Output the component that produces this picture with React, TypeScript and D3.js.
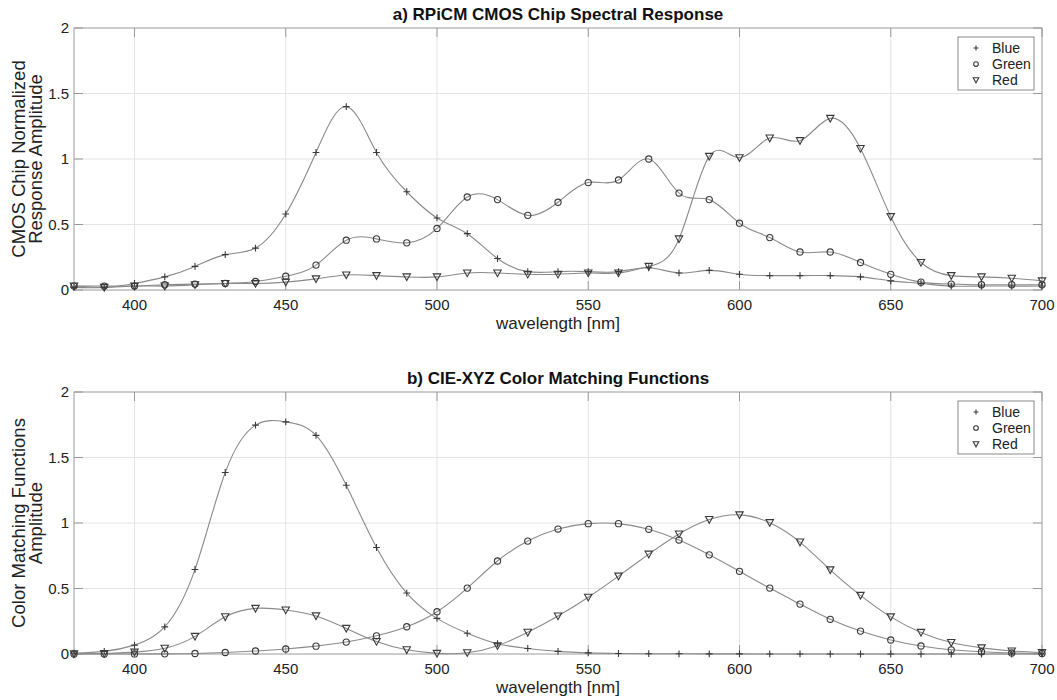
import React from "react";
import * as d3 from "d3";

const wavelengths = d3.range(380, 701, 10);

// Panel a) RPiCM CMOS chip spectral response
const cmosBlue = [0.02, 0.02, 0.05, 0.10, 0.18, 0.27, 0.32, 0.58, 1.05, 1.40, 1.05, 0.75, 0.55, 0.43, 0.24, 0.14, 0.14, 0.14, 0.14, 0.17, 0.13, 0.15, 0.12, 0.11, 0.11, 0.11, 0.10, 0.07, 0.05, 0.03, 0.03, 0.03, 0.03];
const cmosGreen = [0.03, 0.03, 0.03, 0.04, 0.045, 0.05, 0.065, 0.105, 0.19, 0.38, 0.39, 0.36, 0.47, 0.71, 0.69, 0.57, 0.67, 0.82, 0.84, 1.00, 0.74, 0.69, 0.51, 0.40, 0.29, 0.29, 0.21, 0.12, 0.06, 0.045, 0.04, 0.04, 0.04];
const cmosRed = [0.03, 0.02, 0.03, 0.03, 0.04, 0.05, 0.05, 0.06, 0.085, 0.115, 0.11, 0.10, 0.10, 0.13, 0.13, 0.12, 0.12, 0.13, 0.13, 0.18, 0.39, 1.02, 1.01, 1.16, 1.14, 1.31, 1.08, 0.56, 0.21, 0.11, 0.10, 0.09, 0.07];

// Panel b) CIE-XYZ color matching functions
const cieBlue = [0.0065, 0.0201, 0.0679, 0.2074, 0.6456, 1.3856, 1.7471, 1.7721, 1.6692, 1.2876, 0.813, 0.4652, 0.272, 0.1582, 0.0782, 0.0422, 0.0203, 0.0087, 0.0039, 0.0021, 0.0017, 0.0011, 0.0008, 0.0003, 0.0002, 0, 0, 0, 0, 0, 0, 0, 0];
const cieGreen = [0.0, 0.0001, 0.0004, 0.0012, 0.004, 0.0116, 0.023, 0.038, 0.06, 0.091, 0.139, 0.208, 0.323, 0.503, 0.71, 0.862, 0.954, 0.995, 0.995, 0.952, 0.87, 0.757, 0.631, 0.503, 0.381, 0.265, 0.175, 0.107, 0.061, 0.032, 0.017, 0.0082, 0.0041];
const cieRed = [0.0014, 0.0042, 0.0143, 0.0435, 0.1344, 0.2839, 0.3483, 0.3362, 0.2908, 0.1954, 0.0956, 0.032, 0.0049, 0.0093, 0.0633, 0.1655, 0.2904, 0.4334, 0.5945, 0.7621, 0.9163, 1.0263, 1.0622, 1.0026, 0.8544, 0.6424, 0.4479, 0.2835, 0.1649, 0.0874, 0.0468, 0.0227, 0.0114];

const xTicks = [400, 450, 500, 550, 600, 650, 700];
const yTicks = [0, 0.5, 1, 1.5, 2];
const yTickLabels = ["0", "0.5", "1", "1.5", "2"];
const seriesNames = ["Blue", "Green", "Red"];

const FONT = "'Liberation Sans', Arial, Helvetica, sans-serif";
const LINE = "#8a8a8a";
const MARK = "#3a3a3a";
const TEXT = "#222";

type Kind = "plus" | "circle" | "tri";
const kinds: Kind[] = ["plus", "circle", "tri"];

function Marker({ kind, x, y, s = 1 }: { kind: Kind; x: number; y: number; s?: number }) {
  if (kind === "plus") {
    const a = 3.4 * s;
    return <path d={`M${x - a},${y}H${x + a}M${x},${y - a}V${y + a}`} stroke={MARK} strokeWidth={1.1} fill="none" />;
  }
  if (kind === "circle") {
    return <circle cx={x} cy={y} r={3.1 * s} stroke={MARK} strokeWidth={1.1} fill="none" />;
  }
  const w = 3.7 * s;
  const h = 3 * s;
  return <path d={`M${x - w},${y - h}L${x + w},${y - h}L${x},${y + w}Z`} stroke={MARK} strokeWidth={1.1} fill="none" />;
}

function Panel({ top, title, ylabel, data }: { top: number; title: string; ylabel: string[]; data: number[][] }) {
  const left = 74;
  const right = 1042;
  const height = 262;
  const bottom = top + height;
  const x = d3.scaleLinear().domain([380, 700]).range([left, right]);
  const y = d3.scaleLinear().domain([0, 2]).range([bottom, top]);
  const line = d3
    .line<number>()
    .x((_, i) => x(wavelengths[i]))
    .y((d) => y(d))
    .curve(d3.curveNatural);
  const tickLen = 9;
  const cy = (top + bottom) / 2;
  const legX = 958;
  const legY = top + 9;

  return (
    <g>
      {xTicks.slice(0, -1).map((t) => (
        <line key={"gx" + t} x1={x(t)} x2={x(t)} y1={top} y2={bottom} stroke="#e4e4e4" strokeWidth={1} />
      ))}
      {yTicks.slice(1, -1).map((t) => (
        <line key={"gy" + t} x1={left} x2={right} y1={y(t)} y2={y(t)} stroke="#e4e4e4" strokeWidth={1} />
      ))}
      {xTicks.map((t) => (
        <g key={"tx" + t}>
          <line x1={x(t)} x2={x(t)} y1={bottom} y2={bottom - tickLen} stroke="#999" />
          <line x1={x(t)} x2={x(t)} y1={top} y2={top + tickLen} stroke="#999" />
          <text x={x(t)} y={bottom + 20} textAnchor="middle" fontSize={15} fill={TEXT} fontFamily={FONT}>
            {t}
          </text>
        </g>
      ))}
      {yTicks.map((t, i) => (
        <g key={"ty" + t}>
          <line x1={left} x2={left + tickLen} y1={y(t)} y2={y(t)} stroke="#999" />
          <line x1={right} x2={right - tickLen} y1={y(t)} y2={y(t)} stroke="#999" />
          <text x={left - 5} y={y(t)} dy="0.36em" textAnchor="end" fontSize={15} fill={TEXT} fontFamily={FONT}>
            {yTickLabels[i]}
          </text>
        </g>
      ))}
      <rect x={left} y={top} width={right - left} height={height} fill="none" stroke="#9a9a9a" strokeWidth={1} />
      {data.map((s, k) => (
        <path key={"l" + k} d={line(s) || ""} fill="none" stroke={LINE} strokeWidth={1.1} />
      ))}
      {data.map((s, k) => (
        <g key={"m" + k}>
          {s.map((v, i) => (
            <Marker key={i} kind={kinds[k]} x={x(wavelengths[i])} y={y(v)} />
          ))}
        </g>
      ))}
      <text x={(left + right) / 2} y={top - 8} textAnchor="middle" fontSize={17} fontWeight="bold" fill="#111" fontFamily={FONT}>
        {title}
      </text>
      <text x={(left + right) / 2} y={bottom + 39} textAnchor="middle" fontSize={17} fill={TEXT} fontFamily={FONT}>
        wavelength [nm]
      </text>
      {ylabel.map((l, i) => (
        <text
          key={"yl" + i}
          transform={`translate(${25 + i * 17},${cy}) rotate(-90)`}
          textAnchor="middle"
          fontSize={18.5}
          fill={TEXT}
          fontFamily={FONT}
        >
          {l}
        </text>
      ))}
      <rect x={legX} y={legY} width={76} height={53} fill="#fff" stroke="#8a8a8a" strokeWidth={1} />
      {seriesNames.map((n, i) => (
        <g key={"lg" + n}>
          <Marker kind={kinds[i]} x={legX + 18} y={legY + 11 + i * 16} s={0.75} />
          <text x={legX + 34} y={legY + 11 + i * 16} dy="0.36em" fontSize={14} fill={TEXT} fontFamily={FONT}>
            {n}
          </text>
        </g>
      ))}
    </g>
  );
}

export default function App() {
  return (
    <svg width={1057} height={700} style={{ position: "absolute", left: 0, top: 0, background: "#fff" }}>
      <rect width={1057} height={700} fill="#fff" />
      <Panel
        top={28}
        title="a) RPiCM CMOS Chip Spectral Response"
        ylabel={["CMOS Chip Normalized", "Response Amplitude"]}
        data={[cmosBlue, cmosGreen, cmosRed]}
      />
      <Panel
        top={392}
        title="b) CIE-XYZ Color Matching Functions"
        ylabel={["Color Matching Functions", "Amplitude"]}
        data={[cieBlue, cieGreen, cieRed]}
      />
    </svg>
  );
}
